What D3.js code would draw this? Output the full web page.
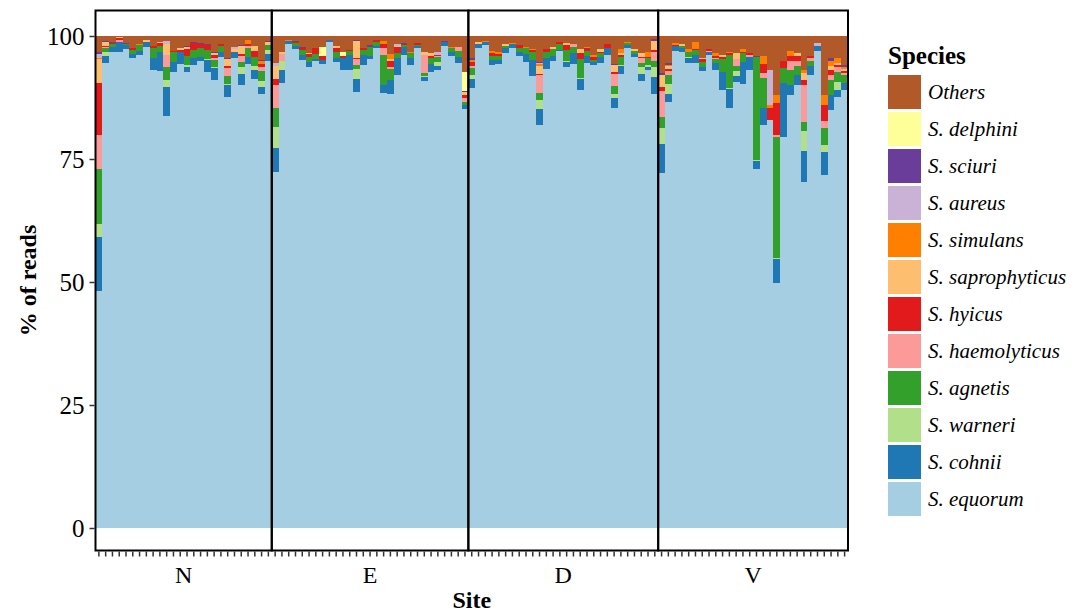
<!DOCTYPE html>
<html>
<head>
<meta charset="utf-8">
<script src="https://cdn.jsdelivr.net/npm/d3@7"></script>
<style>
  body { margin: 0; background: #fff; }
  text { font-family: "Liberation Serif", "Times New Roman", serif; }
</style>
</head>
<body>
<svg id="chart" width="1085" height="613"></svg>
<script>
// Sites and the number of samples sequenced at each
const sites = ["N", "E", "D", "V"];
const samplesPerSite = [26, 29, 28, 28];

// Species in stacking order, bottom to top
const speciesKeys = ["equorum", "cohnii", "warneri", "agnetis", "haemolyticus", "hyicus",
  "saprophyticus", "simulans", "aureus", "sciuri", "delphini", "others"];
const speciesLabels = ["S. equorum", "S. cohnii", "S. warneri", "S. agnetis", "S. haemolyticus",
  "S. hyicus", "S. saprophyticus", "S. simulans", "S. aureus", "S. sciuri", "S. delphini", "Others"];
const speciesColors = ["#a6cee3", "#1f78b4", "#b2df8a", "#33a02c", "#fb9a99", "#e31a1c",
  "#fdbf6f", "#ff7f00", "#cab2d6", "#6a3d9a", "#ffff99", "#b15928"];

// Read share (%) per sample, samples ordered N, E, D, V
const equorum = [
  48.2, 94.8, 96.8, 96.8, 97.4, 95.5, 96.1, 97.8, 93.0, 92.8, 83.8, 92.6, 94.3, 92.6, 94.1, 95.0, 92.6, 91.1, 95.8, 87.7, 95.6, 90.0, 94.4, 91.3, 88.2, 95.0,
  72.4, 90.4, 98.4, 97.4, 95.2, 93.8, 95.0, 94.3, 98.8, 94.8, 93.0, 93.0, 88.7, 94.1, 95.3, 97.6, 88.5, 88.2, 92.1, 96.1, 94.1, 97.6, 90.9, 92.6, 93.0, 98.0, 96.0, 94.6, 85.1,
  89.4, 97.6, 98.2, 94.1, 94.3, 96.6, 97.6, 96.0, 94.8, 91.9, 81.9, 93.3, 94.9, 97.0, 93.6, 94.3, 89.0, 94.6, 94.1, 94.6, 96.2, 85.4, 92.3, 97.6, 95.8, 90.9, 93.1, 88.2,
  72.2, 86.6, 97.0, 96.8, 94.6, 94.6, 92.9, 96.2, 93.0, 89.0, 85.4, 90.7, 90.3, 93.1, 73.0, 81.9, 82.9, 49.8, 79.5, 88.0, 90.0, 70.4, 92.0, 97.0, 71.8, 85.0, 87.6, 89.0];
const cohnii = [
  11.0, 1.4, 1.0, 1.9, 0.7, 0.8, 0.8, 0.9, 2.5, 3.9, 5.9, 2.1, 2.4, 1.2, 1.5, 0.8, 2.6, 2.4, 1.0, 2.4, 1.2, 2.2, 1.4, 1.8, 1.5, 1.4,
  4.9, 2.7, 0.6, 0.5, 1.0, 1.0, 0.4, 0.8, 0.4, 0.8, 2.6, 3.2, 2.6, 2.0, 0.6, 0.4, 1.5, 2.8, 3.4, 1.6, 1.4, 0.4, 0.8, 1.8, 1.0, 0.7, 0.7, 1.2, 0.9,
  1.9, 0.7, 0.6, 1.0, 0.8, 0.9, 0.7, 0.8, 1.6, 3.2, 3.3, 2.2, 1.0, 0.2, 1.2, 2.3, 2.3, 1.4, 0.7, 1.1, 1.3, 2.0, 1.6, 0.6, 0.5, 1.4, 0.7, 3.5,
  5.8, 1.7, 1.0, 0.7, 1.0, 1.6, 0.8, 0.6, 1.5, 3.7, 3.8, 1.2, 4.4, 2.7, 1.6, 3.5, 0.0, 4.9, 11.0, 2.0, 2.0, 6.2, 2.0, 1.0, 4.7, 3.0, 1.5, 1.5];
const warneri = [
  2.6, 0.8, 0, 0, 0, 0, 0, 0, 0, 0, 1.4, 0, 0, 0.3, 0, 0, 0.2, 0.3, 0, 0.2, 0, 1.5, 0, 0.9, 1.2, 0.8,
  4.3, 1.8, 0, 0, 0, 0, 0, 0, 0, 0, 0, 0, 2.0, 0, 0, 0, 0, 0, 0, 0, 0, 0, 0.2, 0, 0.7, 0, 0, 0, 0,
  0.8, 0, 0, 0, 0, 0, 0, 0, 0, 0, 1.8, 0, 0, 0, 0.2, 0, 0.2, 0, 0, 0, 0, 0.9, 0.2, 0, 0, 1.3, 0.3, 2.0,
  3.3, 2.0, 0, 0, 0.2, 0, 0, 0, 0, 0, 0.2, 1.0, 0, 0, 0.2, 0, 0, 0.2, 0, 0, 0, 4.0, 0, 0, 1.4, 0, 1.5, 0];
const agnetis = [
  11.2, 0.8, 0.5, 0, 0.3, 0.8, 1.2, 0, 2.0, 1.3, 2.7, 2.0, 0, 1.9, 1.6, 1.8, 1.7, 1.4, 1.1, 1.5, 0, 1.0, 1.8, 1.8, 1.9, 0.9,
  3.7, 0, 0, 0.6, 1.0, 1.0, 0.9, 0, 0, 1.1, 0, 0.8, 0.9, 1.0, 1.9, 0.7, 6.1, 2.2, 1.0, 0.4, 1.0, 0.2, 0.5, 1.1, 1.0, 0, 0.8, 1.2, 0.6,
  1.4, 0, 0, 0.9, 0.9, 0.5, 0, 0.8, 1.1, 1.6, 1.4, 1.3, 1.5, 1.1, 2.1, 1.2, 3.9, 1.0, 0.3, 0.8, 0, 1.5, 1.6, 0.3, 0.7, 0.9, 1.4, 1.2,
  2.3, 1.7, 0, 0.5, 0.9, 1.0, 1.0, 0, 0.8, 2.7, 6.7, 1.0, 1.8, 0, 20.9, 6.0, 0, 24.6, 3.0, 3.0, 2.0, 1.9, 1.0, 0, 3.5, 3.0, 2.0, 1.5];
const haemolyticus = [
  6.9, 0.3, 0, 0.4, 0, 0, 0, 0, 0, 0, 2.4, 0, 0, 0, 0, 0, 0, 0.3, 0, 1.6, 0, 1.2, 0.4, 0, 1.0, 0,
  4.7, 1.4, 0, 0, 0, 0, 0, 0, 0, 0, 0, 0, 1.1, 0, 0, 0, 1.5, 0.5, 0, 0, 0, 0, 3.7, 0, 0.3, 0, 0, 0.7, 0.8,
  0.5, 0, 0, 0, 0, 0, 0, 0, 0, 0, 3.7, 0, 0, 0, 0, 0.6, 0, 0, 0, 0, 0, 2.4, 0, 0, 0, 1.0, 0, 1.9,
  5.2, 0.8, 0, 0, 0, 0, 0, 0.2, 0.3, 0, 0, 1.5, 0, 0.3, 0, 1.0, 0, 0.4, 0, 2.0, 1.0, 7.5, 0.5, 0, 1.4, 1.0, 1.0, 0.5];
const hyicus = [
  10.6, 0.2, 0.3, 0.4, 0, 0.5, 0, 0, 0.5, 0.5, 0, 0.3, 0.5, 1.4, 1.3, 0.7, 1.0, 0.7, 0.4, 0.5, 0, 0.5, 0.4, 1.2, 0.5, 0,
  1.2, 0, 0, 0.3, 0.3, 0.5, 1.2, 0.8, 0, 0.9, 0.4, 0.2, 0.2, 0.5, 0, 0.5, 0.8, 1.2, 1.2, 0.3, 0, 0.3, 0, 0.5, 0.2, 0, 0, 0, 0.7,
  0.7, 0, 0, 0.5, 0.4, 0, 0, 0.5, 0, 0.5, 0.2, 0.5, 0, 0.5, 1.0, 0, 1.2, 0.5, 0.6, 0.3, 0.8, 0.5, 0.5, 0, 0, 0.3, 0.2, 0.3,
  0.9, 0.4, 0.2, 0, 0, 0.2, 0.6, 0.4, 0.4, 0.4, 0.4, 0, 0.3, 0.4, 0, 2.0, 2.5, 6.5, 1.5, 1.0, 1.0, 1.0, 0.5, 0, 3.2, 1.0, 0.5, 0.3];
const saprophyticus = [
  4.9, 0.7, 0, 0.2, 0, 0, 0, 0.5, 0, 0.3, 2.2, 0, 0.3, 0.3, 0, 0, 0, 0.3, 0, 1.4, 0.5, 1.5, 0, 0.9, 0, 0.7,
  2.7, 0.5, 0, 0, 0, 0.3, 0, 0, 0, 0.4, 0, 0, 3.5, 0, 0, 0, 0, 0.5, 0.3, 0, 0, 0, 0.6, 0.5, 0, 0, 0, 0, 0.5,
  0, 0.4, 0, 0, 0, 0.3, 0, 0, 0, 0, 1.7, 0, 0.4, 0, 0.4, 0, 0.7, 0, 0, 0.6, 0, 1.5, 0.3, 0, 0.4, 0.7, 0, 1.8,
  2.4, 0.7, 0, 0.3, 0, 0, 0.3, 0, 0, 0.3, 0, 1.2, 0, 0, 0, 0, 0, 0, 0, 0, 0.5, 1.5, 0, 0, 0, 1.0, 0.5, 0.5];
const simulans = [
  0.2, 0, 0, 0, 0, 0, 0.2, 0, 0, 0, 0, 0, 0, 0, 0, 0, 0, 0, 0, 0, 0, 0, 0.7, 0, 0.7, 0,
  0, 0, 0.2, 0, 0, 0, 0, 0, 0, 0, 0, 0, 0, 0, 0, 0, 0.5, 1.0, 0, 0, 0.3, 0, 0, 0, 0, 0, 0.3, 0, 0,
  0.5, 0, 0.2, 0.5, 0.3, 0, 0.2, 0, 0.3, 0.2, 0.3, 0, 0, 0, 0, 0, 0, 0.3, 0.5, 0, 0, 0, 0.8, 0.2, 0, 0, 1.0, 0,
  0, 0.3, 0.3, 0, 0.6, 1.3, 0, 0, 0.6, 0, 0.3, 0, 0.6, 0, 0, 1.5, 0.6, 1.6, 0, 1.0, 0, 0.5, 0, 0, 2.0, 1.0, 1.0, 0.5];
const aureus = [
  0.8, 0, 0, 0, 0, 0, 0, 0, 0, 0, 0.5, 0, 0, 0, 0, 0, 0, 0, 0, 0, 0.5, 0, 0, 0, 0, 0,
  0.6, 0, 0, 0, 0, 0, 0, 0, 0, 0, 0, 0, 0, 0, 0, 0, 0, 0, 0.3, 0, 0, 0, 0, 0, 0.5, 0, 0, 0, 0,
  0, 0, 0, 0, 0, 0, 0, 0, 0, 0, 0.2, 0, 0, 0, 0, 0, 0, 0, 0, 0, 0, 0, 0, 0, 0, 0, 0, 0,
  0, 0, 0, 0, 0, 0, 0, 0, 0, 0, 0, 0, 0, 0, 0, 0, 7.1, 0, 0, 0, 0, 0, 0, 0.5, 0, 0, 0, 0];
const sciuri = [
  0.4, 0.3, 0.2, 0, 0.2, 0, 0, 0, 0, 0, 0, 0, 0, 0.3, 0.2, 0.2, 0.2, 0.2, 0, 0.3, 0, 0.3, 0, 0, 0.2, 0.2,
  0, 0, 0, 0.2, 0.3, 0, 0, 0, 0, 0, 0, 0, 0.2, 0, 0.4, 0, 0, 0, 0, 0.2, 0, 0, 0, 0, 0, 0.3, 0, 0, 0.3,
  0.3, 0, 0, 0, 0, 0, 0, 0, 0, 0, 0.2, 0, 0, 0, 0, 0, 0, 0, 0, 0, 0, 0.2, 0, 0, 0, 0, 0.1, 0.4,
  0.3, 0.3, 0, 0, 0, 0, 0, 0, 0, 0, 0, 0, 0, 0, 0.3, 0, 0, 0, 0, 0, 0, 0, 0, 0, 0, 0.5, 0, 0.3];
const delphini = [
  0, 0, 0, 0, 0, 0, 0, 0, 0, 0, 0, 0, 0, 0, 0, 0, 0, 0, 0, 0, 0, 0, 0, 0, 0, 0,
  0, 0, 0, 0, 0, 0, 0, 1.8, 0, 0, 0.7, 0, 0, 0, 0, 0, 0, 0, 0, 0, 0, 0, 0, 0, 0, 0, 0, 0, 3.7,
  0, 0, 0, 0, 0, 0, 0, 0, 0, 0, 0, 0, 0, 0, 0, 0, 0, 0, 0, 0, 0, 0, 0, 0, 0, 0, 0, 0,
  0, 0, 0, 0, 0, 0, 0, 0, 0, 0, 0, 0, 0, 0, 0, 0, 0, 0, 0, 0, 0, 0, 0, 0, 0, 0, 0, 0];
const others = [
  3.3, 1.0, 1.2, 0.3, 1.4, 2.4, 1.7, 0.8, 2.0, 1.2, 1.1, 3.0, 2.5, 2.0, 1.3, 1.5, 1.7, 3.3, 1.7, 4.4, 2.2, 1.8, 0.9, 2.1, 4.8, 1.0,
  5.5, 3.2, 0.8, 1.0, 2.2, 3.4, 2.5, 2.3, 0.8, 2.0, 3.3, 2.8, 0.8, 2.4, 1.8, 0.8, 1.1, 3.6, 1.7, 1.4, 3.2, 1.5, 3.3, 3.5, 3.3, 1.0, 2.2, 2.3, 7.4,
  4.5, 1.3, 1.0, 3.0, 3.3, 1.7, 1.5, 1.9, 2.2, 2.6, 5.3, 2.7, 2.2, 1.2, 1.5, 1.6, 2.7, 2.2, 3.8, 2.6, 1.7, 5.6, 2.7, 1.3, 2.6, 3.5, 3.2, 0.7,
  7.6, 5.5, 1.5, 1.7, 2.7, 1.3, 4.4, 2.6, 3.4, 3.9, 3.2, 3.4, 2.6, 3.5, 4.0, 4.1, 6.9, 12.0, 5.0, 3.0, 3.5, 7.0, 4.0, 1.5, 12.0, 4.5, 4.4, 5.9];

const yTicks = [0, 25, 50, 75, 100];

// ---- assemble one row per sample ----
const seriesByKey = { equorum, cohnii, warneri, agnetis, haemolyticus, hyicus,
  saprophyticus, simulans, aureus, sciuri, delphini, others };
const rows = [];
sites.forEach((site, si) => {
  for (let k = 0; k < samplesPerSite[si]; k++) {
    const i = rows.length;
    const row = { id: site + (k + 1), site };
    speciesKeys.forEach(key => { row[key] = seriesByKey[key][i]; });
    rows.push(row);
  }
});

const svg = d3.select("#chart");
const plot = { left: 95.5, right: 848, top: 10.5, bottom: 550.5 };

const x = d3.scaleBand().domain(rows.map(d => d.id)).range([plot.left, plot.right]).padding(0);
const y = d3.scaleLinear().domain([0, 100]).range([528, 36]);
const color = d3.scaleOrdinal().domain(speciesKeys).range(speciesColors);

// Proportional stacking (each sample sums to 100 %)
const stacked = d3.stack().keys(speciesKeys).offset(d3.stackOffsetExpand)(rows);

// Snap bar edges to whole pixels so neighbouring bars meet without seams
const bx0 = id => Math.round(x(id));
const bx1 = id => Math.round(x(id) + x.bandwidth());

const bars = svg.append("g").attr("shape-rendering", "crispEdges");
bars.selectAll("g")
  .data(stacked)
  .join("g")
  .attr("fill", d => color(d.key))
  .selectAll("rect")
  .data(d => d)
  .join("rect")
  .attr("x", d => bx0(d.data.id))
  .attr("width", d => bx1(d.data.id) - bx0(d.data.id))
  .attr("y", d => y(d[1] * 100))
  .attr("height", d => Math.max(0, y(d[0] * 100) - y(d[1] * 100)));

// Facet panels with black borders
const panels = sites.map(site => {
  const ids = rows.filter(r => r.site === site).map(r => r.id);
  return { site, x0: x(ids[0]), x1: x(ids[ids.length - 1]) + x.bandwidth() };
});
svg.append("g").selectAll("rect")
  .data(panels)
  .join("rect")
  .attr("x", d => d.x0)
  .attr("y", plot.top)
  .attr("width", d => d.x1 - d.x0)
  .attr("height", plot.bottom - plot.top)
  .attr("fill", "none")
  .attr("stroke", "#000")
  .attr("stroke-width", 2);

// Y axis
const yAxis = svg.append("g")
  .attr("transform", `translate(${plot.left - 1},0)`)
  .call(d3.axisLeft(y).tickValues(yTicks).tickSize(5).tickPadding(5));
yAxis.select(".domain").remove();
yAxis.selectAll(".tick line").attr("stroke", "#333").attr("stroke-width", 1.5);
yAxis.selectAll(".tick text")
  .attr("fill", "#000")
  .style("font-family", '"Liberation Serif", serif')
  .style("font-size", "25px");

// X ticks, one per sample
const xAxis = svg.append("g")
  .attr("transform", `translate(0,${plot.bottom + 1})`)
  .call(d3.axisBottom(x).tickSize(5).tickFormat(""));
xAxis.select(".domain").remove();
xAxis.selectAll(".tick line").attr("stroke", "#333").attr("stroke-width", 1.5);

// Site labels centred under each panel
svg.append("g").selectAll("text")
  .data(panels)
  .join("text")
  .attr("x", d => (d.x0 + d.x1) / 2)
  .attr("y", 583)
  .attr("text-anchor", "middle")
  .style("font-size", "24px")
  .text(d => d.site);

// Axis titles
svg.append("text")
  .attr("x", (plot.left + plot.right) / 2)
  .attr("y", 608)
  .attr("text-anchor", "middle")
  .style("font-size", "24px")
  .style("font-weight", "bold")
  .text("Site");

svg.append("text")
  .attr("transform", `translate(36,${(plot.top + plot.bottom) / 2}) rotate(-90)`)
  .attr("text-anchor", "middle")
  .style("font-size", "24px")
  .style("font-weight", "bold")
  .text("% of reads");

// Legend, top entry = top of stack
const legend = svg.append("g").attr("transform", "translate(888,0)");
legend.append("text")
  .attr("x", 0)
  .attr("y", 64)
  .style("font-size", "25px")
  .style("font-weight", "bold")
  .text("Species");

const legendItems = speciesKeys.map((k, i) => ({ key: k, label: speciesLabels[i] })).reverse();
const item = legend.selectAll("g.item")
  .data(legendItems)
  .join("g")
  .attr("class", "item")
  .attr("transform", (d, i) => `translate(0,${75 + i * 37})`);
item.append("rect")
  .attr("width", 33)
  .attr("height", 34)
  .attr("fill", d => color(d.key));
item.append("text")
  .attr("x", 40)
  .attr("y", 24)
  .style("font-size", "21px")
  .style("font-style", "italic")
  .text(d => d.label);
</script>
</body>
</html>
